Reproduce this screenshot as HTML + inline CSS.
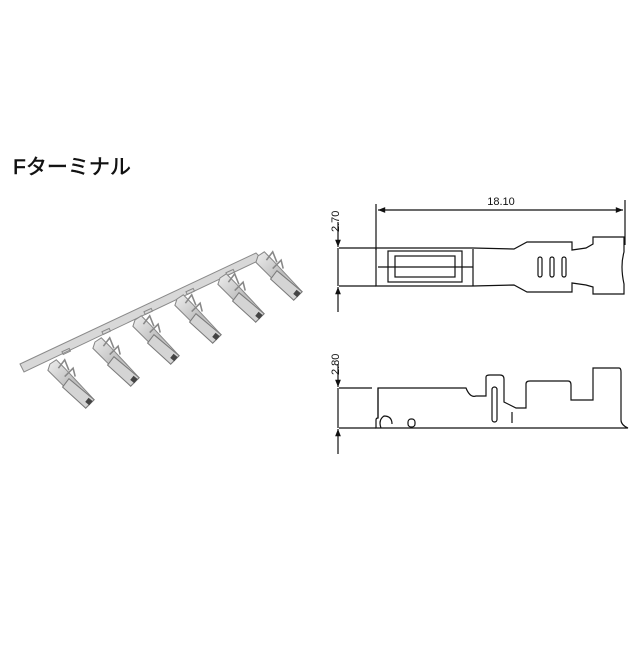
<!DOCTYPE html>
<html><head><meta charset="utf-8"><style>
body{margin:0;background:#fff;width:643px;height:643px;overflow:hidden}
</style></head><body>
<svg width="643" height="643" viewBox="0 0 643 643" xmlns="http://www.w3.org/2000/svg">
<defs>
<marker id="a" viewBox="0 0 10 10" refX="10" refY="5" markerWidth="8" markerHeight="6" orient="auto-start-reverse"><path d="M0,1 L10,5 L0,9 z" fill="#111"/></marker>
<linearGradient id="m" x1="0" y1="0" x2="1" y2="1"><stop offset="0" stop-color="#eeeeee"/><stop offset="0.5" stop-color="#bdbdbd"/><stop offset="1" stop-color="#dedede"/></linearGradient>
<g id="t">
<path d="M0,0 L6,-4 L14,4 L42,34 L34,42 L8,16 L-2,6 Z" fill="url(#m)" stroke="#888" stroke-width="1"/>
<path d="M18,14 L42,34 L34,42 L12,22 Z" fill="#d4d4d4" stroke="#7a7a7a" stroke-width="1"/>
<path d="M8,4 L14,-4 L18,6" fill="none" stroke="#888" stroke-width="1.5"/>
<path d="M14,12 L22,4 L24,12" fill="none" stroke="#888" stroke-width="1.5"/>
<rect x="35" y="33" width="5" height="5" fill="#444" transform="rotate(40 37 35)"/>
</g>
</defs>
<text x="13" y="174" font-family="Liberation Sans, 'Noto Sans CJK JP', sans-serif" font-size="21" fill="#111" stroke="#111" stroke-width="0.5">Fターミナル</text>

<!-- photo strip -->
<path d="M20,364 L256,253 L262,259 L24,372 Z" fill="#d8d8d8" stroke="#8a8a8a" stroke-width="1"/>
<g fill="none" stroke="#888" stroke-width="1">
<rect x="62" y="350" width="8" height="3" transform="rotate(-25 66 351)"/>
<rect x="102" y="330" width="8" height="3" transform="rotate(-25 106 331)"/>
<rect x="144" y="310" width="8" height="3" transform="rotate(-25 148 311)"/>
<rect x="186" y="290" width="8" height="3" transform="rotate(-25 190 291)"/>
<rect x="226" y="271" width="8" height="3" transform="rotate(-25 230 272)"/>
</g>
<use href="#t" transform="translate(50,364) scale(1.05)"/>
<use href="#t" transform="translate(95,342) scale(1.05)"/>
<use href="#t" transform="translate(135,320) scale(1.05)"/>
<use href="#t" transform="translate(177,299) scale(1.05)"/>
<use href="#t" transform="translate(220,278) scale(1.05)"/>
<use href="#t" transform="translate(258,256) scale(1.05)"/>

<g stroke="#111" stroke-width="1.2" fill="none">
<line x1="376" y1="204" x2="376" y2="250"/>
<line x1="625" y1="200" x2="625" y2="245"/>
<line x1="378" y1="210" x2="623" y2="210" marker-start="url(#a)" marker-end="url(#a)"/>
<line x1="339" y1="248" x2="376" y2="248"/>
<line x1="339" y1="286" x2="376" y2="286"/>
<line x1="338" y1="222" x2="338" y2="247" marker-end="url(#a)"/>
<line x1="338" y1="312" x2="338" y2="287" marker-end="url(#a)"/>
<line x1="338" y1="248" x2="338" y2="286"/>
<path d="M376,248 H473 L514,249 L527,242 H572 V250 L586,248 L593,244 V237 H624 V252 Q620,266 624,284 V294 H593 V287 L586,285 L572,283 V292 H527 L514,285 L473,286 H376 Z"/>
<line x1="378" y1="267" x2="473" y2="267"/>
<rect x="388" y="251" width="74" height="31"/>
<rect x="395" y="256" width="60" height="21"/>
<line x1="473" y1="249" x2="473" y2="286"/>
<rect x="538" y="257" width="4" height="20" rx="2"/><rect x="550" y="257" width="4" height="20" rx="2"/><rect x="562" y="257" width="4" height="20" rx="2"/>
<line x1="339" y1="388" x2="372" y2="388"/>
<line x1="339" y1="428" x2="376" y2="428"/>
<line x1="338" y1="364" x2="338" y2="387" marker-end="url(#a)"/>
<line x1="338" y1="454" x2="338" y2="429" marker-end="url(#a)"/>
<line x1="338" y1="388" x2="338" y2="428"/>
<path d="M378,388 H466 Q470,398 476,396 H486 V377 Q486,375 490,375 H500 Q504,375 504,379 V402 L516,408 H526 V384 Q526,381 530,381 H568 Q571,381 571,385 V400 H593 V368 H619 Q621,368 621,372 V420 Q621,425 628,428 H376 V420 Q376,418 378,418 Z"/>
<line x1="378" y1="388" x2="378" y2="418"/>
<rect x="492" y="387" width="5" height="35" rx="2.5"/>
<line x1="512" y1="412" x2="512" y2="423"/>
<path d="M381,428 Q378,420 384,416 Q392,416 392,424"/>
<rect x="408" y="419" width="7" height="8" rx="3"/>
</g>
<g font-family="Liberation Sans, sans-serif" font-size="11" fill="#111">
<text x="501" y="205" text-anchor="middle">18.10</text>
<text transform="translate(339,232) rotate(-90)">2.70</text>
<text transform="translate(339,375) rotate(-90)">2.80</text>
</g>
</svg>
</body></html>
